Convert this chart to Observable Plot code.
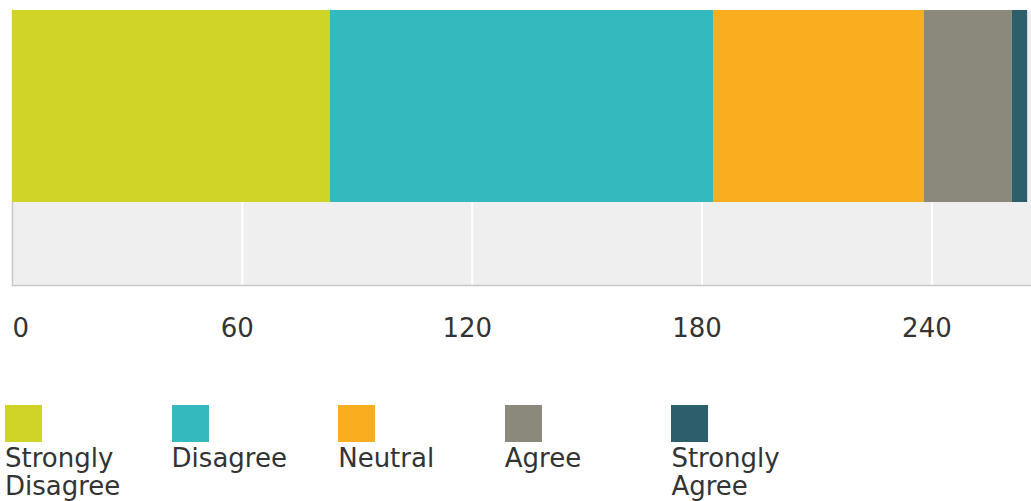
<!DOCTYPE html>
<html>
<head>
<meta charset="utf-8">
<script src="https://cdn.jsdelivr.net/npm/d3@7"></script>
<script src="https://cdn.jsdelivr.net/npm/@observablehq/plot@0.6"></script>
<style>
  html, body { margin: 0; padding: 0; background: #fff; }
  body { width: 1031px; height: 501px; overflow: hidden; font-family: "DejaVu Sans", sans-serif; color: #333; }
  #legend { display: flex; margin-top: 35px; padding-left: 5px; }
  .item { width: 166.6px; flex: none; }
  .sw { width: 37px; height: 37px; }
  .lab { font-size: 26px; line-height: 28px; margin-top: 2px; width: 150px; }
</style>
</head>
<body>
<div id="chart"></div>
<div id="legend"></div>
<script>
const question = "Responses";
const categories = ["Strongly Disagree", "Disagree", "Neutral", "Agree", "Strongly Agree"];
const counts = [83, 100, 55, 23, 4];
const colors = ["#cfd427", "#32babe", "#f8ae1f", "#8b897b", "#2c5e6b"];
const tickValues = [0, 60, 120, 180, 240];

const data = categories.map((c, i) => ({question, category: c, count: counts[i]}));

const plot = Plot.plot({
  width: 1031,
  height: 370,
  marginLeft: 12,
  marginRight: 0,
  marginTop: 10,
  marginBottom: 85,
  style: {fontFamily: "DejaVu Sans, sans-serif", fontSize: "26px", color: "#333", background: "transparent"},
  x: {domain: [0, 266], axis: null, label: null},
  y: {domain: [question], paddingInner: 0, paddingOuter: 0.216, align: 0, axis: null},
  color: {domain: categories, range: colors},
  marks: [
    Plot.frame({fill: "#efefef", stroke: null}),
    Plot.ruleX(tickValues.slice(1), {stroke: "white", strokeWidth: 2}),
    Plot.frame({anchor: "bottom", stroke: "#c8c8c8", strokeWidth: 1.5}),
    Plot.frame({anchor: "left", stroke: "#c8c8c8", strokeWidth: 1.5}),
    Plot.barX(data, Plot.stackX({y: "question", x: "count", fill: "category", order: null})),
    Plot.axisX([0], {tickSize: 0, tickPadding: 33, textAnchor: "start", fill: "#333", fontSize: 26, label: null}),
    Plot.axisX(tickValues.slice(1), {tickSize: 0, tickPadding: 33, dx: -5, fill: "#333", fontSize: 26, label: null})
  ]
});
document.getElementById("chart").appendChild(plot);

const legend = document.getElementById("legend");
categories.forEach((c, i) => {
  const item = document.createElement("div");
  item.className = "item";
  const sw = document.createElement("div");
  sw.className = "sw";
  sw.style.background = colors[i];
  const lab = document.createElement("div");
  lab.className = "lab";
  lab.textContent = c;
  item.appendChild(sw);
  item.appendChild(lab);
  legend.appendChild(item);
});
</script>
</body>
</html>
